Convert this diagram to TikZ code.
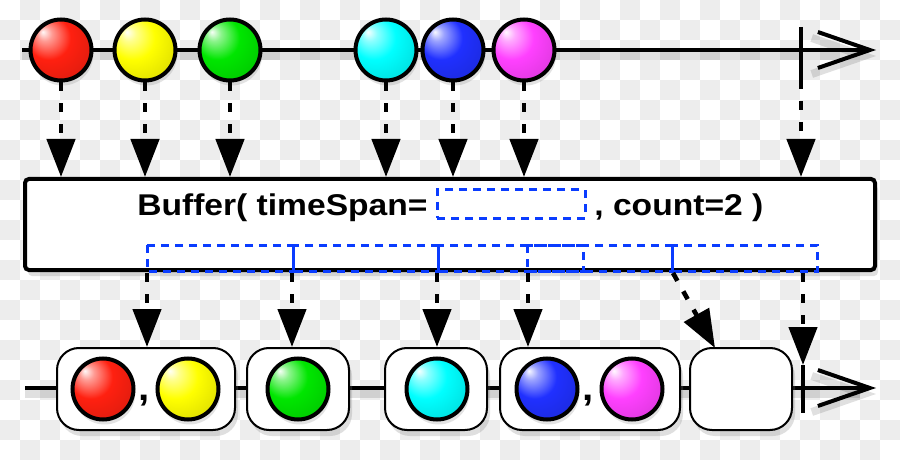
\documentclass[tikz,border=0pt]{standalone}
\usepackage{fontspec}
\newfontfamily\lblfont[FakeStretch=1.12]{Liberation Sans}
\usetikzlibrary{arrows.meta,shadows}
\definecolor{chk}{HTML}{EDEDED}
\definecolor{dashblue}{HTML}{0A3CFF}
\definecolor{cRed}{HTML}{FF2010}
\definecolor{cYellow}{HTML}{FFFF00}
\definecolor{cGreen}{HTML}{00E600}
\definecolor{cCyan}{HTML}{00FFFF}
\definecolor{cBlue}{HTML}{2030FF}
\definecolor{cMagenta}{HTML}{FF40FF}
\newcommand\mkball[2]{\pgfdeclareradialshading{ball#1}{\pgfqpoint{-15bp}{15bp}}{color(0bp)=(#2!3!white); color(6bp)=(#2!45!white); color(18bp)=(#2); color(34bp)=(#2!88!black); color(55bp)=(#2!58!black)}}
\mkball{red}{cRed}
\mkball{yellow}{cYellow}
\mkball{green}{cGreen}
\mkball{cyan}{cCyan}
\mkball{blue}{cBlue}
\mkball{magenta}{cMagenta}
\tikzset{
  ball/.style={circle, draw=black, line width=2pt, minimum size=30.5pt, inner sep=0pt, shade, shading=ball#1,
    drop shadow={shadow xshift=0.8pt, shadow yshift=-2.5pt, opacity=.22}},
  timeline/.style={line width=2pt, -{Straight Barb[length=26pt,width=18pt]},
    preaction={draw=black, opacity=.12, line width=4pt, transform canvas={yshift=-3pt}}},
  tickmark/.style={line width=2pt},
  dasharrow/.style={line width=2.3pt, dash pattern=on 4.5pt off 6pt, -{Triangle[length=19pt,width=14pt]}},
  bigbox/.style={draw=black, fill=white, line width=2pt, rounded corners=2pt, minimum width=425pt, minimum height=45.5pt, inner sep=0pt,
    drop shadow={shadow xshift=1.5pt, shadow yshift=-3pt, opacity=.25}},
  outbox/.style={draw=black, fill=white, line width=1pt, rounded corners=11pt, minimum height=41pt, inner sep=0pt,
    drop shadow={shadow xshift=1.5pt, shadow yshift=-3pt, opacity=.25}},
  lbl/.style={inner sep=0pt, font=\lblfont\bfseries\fontsize{15}{18}\selectfont},
  commalbl/.style={inner sep=0pt, font=\lblfont\bfseries\fontsize{18}{20}\selectfont},
  bluedash/.style={draw=dashblue, line width=1.5pt, dash pattern=on 4pt off 3pt},
}
\begin{document}
\begin{tikzpicture}[x=0.5pt,y=-0.5pt]
\useasboundingbox (0,0) rectangle (900,460);
\fill[white] (0,0) rectangle (900,460);
\foreach \i in {0,...,44}{\foreach \j in {0,...,22}{%
  \pgfmathtruncatemacro\chkpar{mod(\i+\j,2)}%
  \ifnum\chkpar=1 \fill[chk] (20*\i,20*\j) rectangle ++(20,20);\fi}}

% main box
\node[bigbox] (box) at (450,224.5) {};

% top timeline
\coordinate (t0) at (22,50);
\coordinate (t1) at (876,50);
\draw[timeline] (t0) -- (t1);
\coordinate (k0a) at (801,27);
\coordinate (k0b) at (801,80);
\draw[tickmark] (k0a) -- (k0b);

\node[ball=red] (a1) at (61,50) {};
\node[ball=yellow] (a2) at (145,50) {};
\node[ball=green] (a3) at (230,50) {};
\node[ball=cyan] (a4) at (386,50) {};
\node[ball=blue] (a5) at (453,50) {};
\node[ball=magenta] (a6) at (524,50) {};

\foreach \n in {a1,a2,a3,a4,a5,a6}{\draw[dasharrow] (\n.south) -- (\n.south |- box.north);}
\draw[dasharrow] (k0b) -- (k0b |- box.north);

% text
\node[lbl, anchor=base east] (tl) at (428,215) {Buffer( timeSpan=};
\node[draw=dashblue, line width=1.5pt, dash pattern=on 4pt off 3pt, minimum width=74pt, minimum height=14pt, inner sep=0pt] (ts) at (511,204) {};
\node[lbl, anchor=base west] (tr) at (594,215) {, count=2 )};

% windows
\draw[bluedash] (147,245) rectangle (293,271);
\draw[bluedash] (293,245) rectangle (438,271);
\draw[bluedash] (438,245) rectangle (583,271);
\draw[bluedash] (527,245) rectangle (672,271);
\draw[bluedash] (672,245) rectangle (817,271);

% bottom timeline
\coordinate (b0) at (25,388);
\coordinate (b1) at (876,388);
\draw[timeline] (b0) -- (b1);
\coordinate (k1a) at (803,365);
\coordinate (k1b) at (803,413);
\draw[tickmark] (k1a) -- (k1b);

\node[outbox, minimum width=89pt] (o1) at (146,389) {};
\node[outbox, minimum width=51pt] (o2) at (298,389) {};
\node[outbox, minimum width=51pt] (o3) at (436,389) {};
\node[outbox, minimum width=90pt] (o4) at (590,389) {};
\node[outbox, minimum width=51pt] (o5) at (741,389) {};

\node[ball=red] (c1) at (103,389) {};
\node[ball=yellow] (c2) at (188,389) {};
\node[ball=green] (c3) at (298,389) {};
\node[ball=cyan] (c4) at (437,389) {};
\node[ball=blue] (c5) at (547,389) {};
\node[ball=magenta] (c6) at (632,389) {};
\node[commalbl, anchor=base] (m1) at (144,400) {,};
\node[commalbl, anchor=base] (m2) at (588,400) {,};

% output arrows
\coordinate (s1) at (147,273);
\coordinate (s2) at (292,273);
\coordinate (s3) at (437,273);
\coordinate (s4) at (528,273);
\coordinate (s5) at (673,273);
\coordinate (s6) at (803,273);
\coordinate (e5) at (715,348);
\draw[dasharrow] (s1) -- (s1 |- o1.north);
\draw[dasharrow] (s2) -- (s2 |- o2.north);
\draw[dasharrow] (s3) -- (s3 |- o3.north);
\draw[dasharrow] (s4) -- (s4 |- o4.north);
\draw[dasharrow] (s5) -- (e5);
\draw[dasharrow] (s6) -- (k1a);
\end{tikzpicture}
\end{document}
